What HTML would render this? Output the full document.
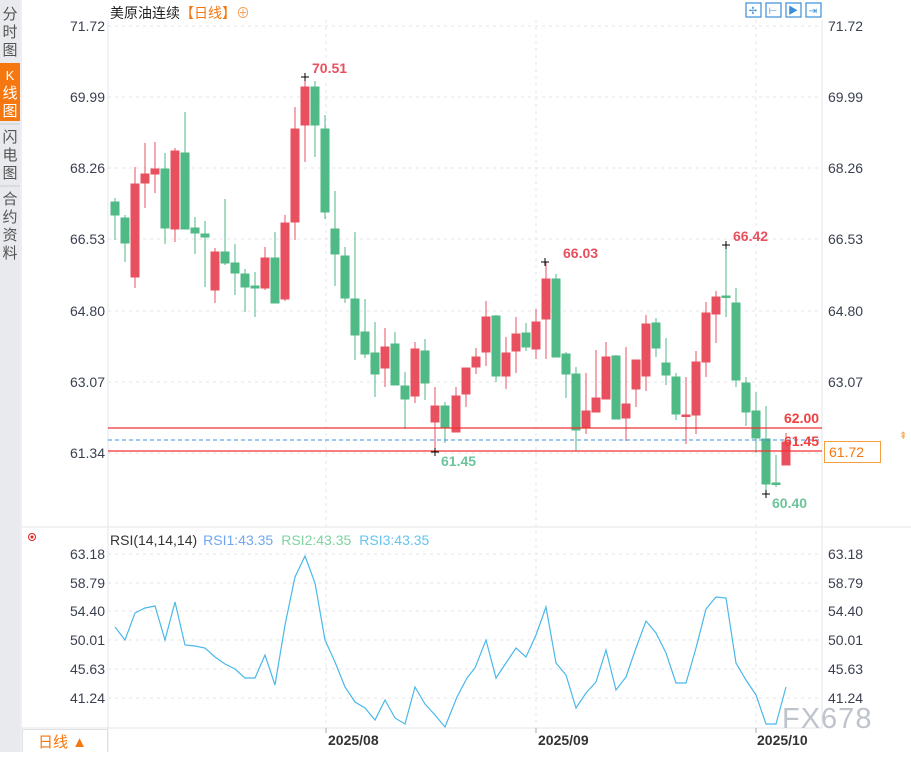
<!DOCTYPE html>
<html><head><meta charset="utf-8"><style>
body{margin:0;width:911px;height:752px;overflow:hidden;background:#fff;font-family:"Liberation Sans","Noto Sans CJK SC",sans-serif}
</style></head><body>
<svg width="911" height="752" xmlns="http://www.w3.org/2000/svg" font-family="Liberation Sans, Noto Sans CJK SC, sans-serif">
<rect x="0" y="0" width="20" height="752" fill="#e9eaee"/>
<rect x="0" y="63" width="20" height="58" fill="#f5770f"/>
<g font-size="15" fill="#555" text-anchor="middle">
<text x="10" y="19">分</text><text x="10" y="37">时</text><text x="10" y="55">图</text>
<text x="10" y="80" fill="#fff" font-size="13">K</text><text x="10" y="98" fill="#fff">线</text><text x="10" y="116" fill="#fff">图</text>
<text x="10" y="142">闪</text><text x="10" y="160">电</text><text x="10" y="178">图</text>
<text x="10" y="204">合</text><text x="10" y="222">约</text><text x="10" y="240">资</text><text x="10" y="258">料</text>
</g>
<line x1="0" y1="124" x2="20" y2="124" stroke="#ccc"/><line x1="0" y1="186" x2="20" y2="186" stroke="#ccc"/>
<line x1="21" y1="0" x2="21" y2="752" stroke="#dde"/>
<line x1="108" y1="20" x2="108" y2="728" stroke="#e4e6ea"/>
<line x1="822" y1="20" x2="822" y2="728" stroke="#e4e6ea"/>
<line x1="22" y1="527" x2="911" y2="527" stroke="#e4e6ea"/>
<line x1="22" y1="728" x2="822" y2="728" stroke="#e4e6ea"/>
<line x1="108" y1="728" x2="108" y2="752" stroke="#e4e6ea"/>
<g stroke="#e4e6ea" stroke-dasharray="3,4">
<line x1="108" y1="26" x2="822" y2="26"/><line x1="108" y1="97" x2="822" y2="97"/><line x1="108" y1="168" x2="822" y2="168"/><line x1="108" y1="239" x2="822" y2="239"/><line x1="108" y1="311" x2="822" y2="311"/><line x1="108" y1="382" x2="822" y2="382"/><line x1="108" y1="453" x2="822" y2="453"/>
<line x1="108" y1="554" x2="822" y2="554"/><line x1="108" y1="583" x2="822" y2="583"/><line x1="108" y1="611" x2="822" y2="611"/><line x1="108" y1="640" x2="822" y2="640"/><line x1="108" y1="669" x2="822" y2="669"/><line x1="108" y1="698" x2="822" y2="698"/>
<line x1="326" y1="20" x2="326" y2="728"/><line x1="536" y1="20" x2="536" y2="728"/><line x1="756" y1="20" x2="756" y2="728"/>
</g>
<g font-size="14" fill="#3a4050" text-anchor="end">
<text x="105" y="31">71.72</text><text x="105" y="102">69.99</text><text x="105" y="173">68.26</text><text x="105" y="244">66.53</text><text x="105" y="316">64.80</text><text x="105" y="387">63.07</text><text x="105" y="458">61.34</text>
<text x="105" y="559">63.18</text><text x="105" y="588">58.79</text><text x="105" y="616">54.40</text><text x="105" y="645">50.01</text><text x="105" y="674">45.63</text><text x="105" y="703">41.24</text>
</g>
<g font-size="14" fill="#3a4050">
<text x="828" y="31">71.72</text><text x="828" y="102">69.99</text><text x="828" y="173">68.26</text><text x="828" y="244">66.53</text><text x="828" y="316">64.80</text><text x="828" y="387">63.07</text><text x="828" y="458">61.34</text>
<text x="828" y="559">63.18</text><text x="828" y="588">58.79</text><text x="828" y="616">54.40</text><text x="828" y="645">50.01</text><text x="828" y="674">45.63</text><text x="828" y="703">41.24</text>
</g>
<text x="110" y="18" font-size="14" fill="#222">美原油连续<tspan fill="#f5770f">【日线】</tspan><tspan fill="#f5a05a">⊕</tspan></text>
<g fill="none" stroke="#3a8ed8" stroke-width="1.2">
<rect x="746" y="3" width="15" height="14"/><rect x="766" y="3" width="15" height="14"/><rect x="786" y="3" width="15" height="14"/><rect x="806" y="3" width="15" height="14"/>
</g>
<g fill="#3a8ed8" font-size="10" text-anchor="middle"><text x="753" y="14">✢</text><text x="773" y="14">⊢</text><text x="793" y="14">▶</text><text x="813" y="14">⇥</text></g>
<g stroke="#4fba85" fill="#4fba85">
<line x1="115" y1="198" x2="115" y2="240"/><rect x="111" y="202" width="8" height="13"/>
<line x1="125" y1="215" x2="125" y2="262"/><rect x="121" y="218" width="8" height="25"/>
<line x1="165" y1="153" x2="165" y2="244"/><rect x="161" y="169" width="8" height="59"/>
<line x1="185" y1="112" x2="185" y2="229"/><rect x="181" y="153" width="8" height="76"/>
<line x1="195" y1="217" x2="195" y2="254"/><rect x="191" y="228" width="8" height="5"/>
<line x1="205" y1="221" x2="205" y2="287"/><rect x="201" y="234" width="8" height="3"/>
<line x1="225" y1="199" x2="225" y2="265"/><rect x="221" y="252" width="8" height="11"/>
<line x1="235" y1="244" x2="235" y2="295"/><rect x="231" y="263" width="8" height="10"/>
<line x1="245" y1="269" x2="245" y2="312"/><rect x="241" y="274" width="8" height="13"/>
<line x1="255" y1="272" x2="255" y2="317"/><rect x="251" y="286" width="8" height="2"/>
<line x1="275" y1="232" x2="275" y2="303"/><rect x="271" y="258" width="8" height="45"/>
<line x1="315" y1="81" x2="315" y2="157"/><rect x="311" y="87" width="8" height="38"/>
<line x1="325" y1="115" x2="325" y2="219"/><rect x="321" y="129" width="8" height="83"/>
<line x1="335" y1="191" x2="335" y2="286"/><rect x="331" y="229" width="8" height="25"/>
<line x1="345" y1="247" x2="345" y2="303"/><rect x="341" y="256" width="8" height="42"/>
<line x1="355" y1="232" x2="355" y2="360"/><rect x="351" y="299" width="8" height="36"/>
<line x1="365" y1="299" x2="365" y2="358"/><rect x="361" y="332" width="8" height="22"/>
<line x1="375" y1="322" x2="375" y2="397"/><rect x="371" y="353" width="8" height="21"/>
<line x1="395" y1="332" x2="395" y2="385"/><rect x="391" y="344" width="8" height="41"/>
<line x1="405" y1="372" x2="405" y2="429"/><rect x="401" y="386" width="8" height="13"/>
<line x1="425" y1="339" x2="425" y2="400"/><rect x="421" y="351" width="8" height="32"/>
<line x1="445" y1="402" x2="445" y2="443"/><rect x="441" y="406" width="8" height="22"/>
<line x1="496" y1="315" x2="496" y2="382"/><rect x="492" y="316" width="8" height="60"/>
<line x1="526" y1="323" x2="526" y2="351"/><rect x="522" y="333" width="8" height="14"/>
<line x1="556" y1="274" x2="556" y2="357"/><rect x="552" y="279" width="8" height="78"/>
<line x1="566" y1="352" x2="566" y2="398"/><rect x="562" y="354" width="8" height="20"/>
<line x1="576" y1="367" x2="576" y2="451"/><rect x="572" y="374" width="8" height="56"/>
<line x1="616" y1="355" x2="616" y2="419"/><rect x="612" y="356" width="8" height="63"/>
<line x1="656" y1="318" x2="656" y2="357"/><rect x="652" y="323" width="8" height="25"/>
<line x1="666" y1="338" x2="666" y2="385"/><rect x="662" y="363" width="8" height="12"/>
<line x1="676" y1="373" x2="676" y2="420"/><rect x="672" y="377" width="8" height="37"/>
<line x1="726" y1="245" x2="726" y2="317"/><rect x="722" y="296" width="8" height="1.5"/>
<line x1="736" y1="288" x2="736" y2="387"/><rect x="732" y="303" width="8" height="77"/>
<line x1="746" y1="377" x2="746" y2="426"/><rect x="742" y="383" width="8" height="29"/>
<line x1="756" y1="392" x2="756" y2="453"/><rect x="752" y="411" width="8" height="27"/>
<line x1="766" y1="406" x2="766" y2="495"/><rect x="762" y="439" width="8" height="45"/>
<line x1="776" y1="455" x2="776" y2="487"/><rect x="772" y="483" width="8" height="1.5"/>
</g>
<g stroke="#e8505f" fill="#e8505f">
<line x1="135" y1="167" x2="135" y2="288"/><rect x="131" y="184" width="8" height="93"/>
<line x1="145" y1="143" x2="145" y2="208"/><rect x="141" y="174" width="8" height="9"/>
<line x1="155" y1="142" x2="155" y2="193"/><rect x="151" y="169" width="8" height="5"/>
<line x1="175" y1="148" x2="175" y2="242"/><rect x="171" y="151" width="8" height="78"/>
<line x1="215" y1="248" x2="215" y2="303"/><rect x="211" y="252" width="8" height="38"/>
<line x1="265" y1="247" x2="265" y2="290"/><rect x="261" y="258" width="8" height="30"/>
<line x1="285" y1="215" x2="285" y2="301"/><rect x="281" y="223" width="8" height="76"/>
<line x1="295" y1="107" x2="295" y2="240"/><rect x="291" y="129" width="8" height="93"/>
<line x1="305" y1="75" x2="305" y2="162"/><rect x="301" y="87" width="8" height="38"/>
<line x1="385" y1="328" x2="385" y2="387"/><rect x="381" y="347" width="8" height="21"/>
<line x1="415" y1="342" x2="415" y2="403"/><rect x="411" y="349" width="8" height="47"/>
<line x1="435" y1="387" x2="435" y2="453"/><rect x="431" y="406" width="8" height="16"/>
<line x1="456" y1="387" x2="456" y2="432"/><rect x="452" y="396" width="8" height="36"/>
<line x1="466" y1="368" x2="466" y2="407"/><rect x="462" y="368" width="8" height="26"/>
<line x1="476" y1="348" x2="476" y2="374"/><rect x="472" y="357" width="8" height="10"/>
<line x1="486" y1="301" x2="486" y2="366"/><rect x="482" y="317" width="8" height="35"/>
<line x1="506" y1="337" x2="506" y2="389"/><rect x="502" y="353" width="8" height="23"/>
<line x1="516" y1="317" x2="516" y2="373"/><rect x="512" y="334" width="8" height="17"/>
<line x1="536" y1="309" x2="536" y2="359"/><rect x="532" y="322" width="8" height="27"/>
<line x1="546" y1="262" x2="546" y2="359"/><rect x="542" y="279" width="8" height="40"/>
<line x1="586" y1="373" x2="586" y2="434"/><rect x="582" y="411" width="8" height="17"/>
<line x1="596" y1="350" x2="596" y2="412"/><rect x="592" y="398" width="8" height="14"/>
<line x1="606" y1="342" x2="606" y2="399"/><rect x="602" y="357" width="8" height="42"/>
<line x1="626" y1="347" x2="626" y2="441"/><rect x="622" y="404" width="8" height="14"/>
<line x1="636" y1="360" x2="636" y2="407"/><rect x="632" y="360" width="8" height="29"/>
<line x1="646" y1="315" x2="646" y2="391"/><rect x="642" y="324" width="8" height="52"/>
<line x1="686" y1="377" x2="686" y2="444"/><rect x="682" y="415" width="8" height="1.5"/>
<line x1="696" y1="351" x2="696" y2="434"/><rect x="692" y="362" width="8" height="53"/>
<line x1="706" y1="302" x2="706" y2="377"/><rect x="702" y="313" width="8" height="49"/>
<line x1="716" y1="291" x2="716" y2="343"/><rect x="712" y="297" width="8" height="17"/>
<line x1="786" y1="433" x2="786" y2="465"/><rect x="782" y="442" width="8" height="23"/>
</g>
<line x1="108" y1="428" x2="822" y2="428" stroke="#f03030" stroke-width="1.3"/>
<line x1="108" y1="451" x2="822" y2="451" stroke="#f03030" stroke-width="1.3"/>
<line x1="108" y1="440" x2="822" y2="440" stroke="#3a8ee8" stroke-dasharray="4,3"/>
<rect x="824.5" y="441.5" width="56" height="21" fill="#fff" stroke="#f5a040"/>
<text x="829" y="457" font-size="14" fill="#f5770f">61.72</text>
<text x="899" y="439" font-size="10" fill="#f5a040">⇞</text>
<g font-size="14" font-weight="bold">
<text x="784" y="423" fill="#f04040">62.00</text>
<text x="784" y="446" fill="#f04040">61.45</text>
<text x="312" y="73" fill="#e8505f">70.51</text>
<text x="563" y="258" fill="#e8505f">66.03</text>
<text x="733" y="241" fill="#e8505f">66.42</text>
<text x="441" y="466" fill="#6cc59a">61.45</text>
<text x="772" y="508" fill="#6cc59a">60.40</text>
</g>
<g stroke="#000" stroke-width="1">
<line x1="301" y1="77" x2="309" y2="77"/><line x1="305" y1="73" x2="305" y2="81"/>
<line x1="541" y1="262" x2="549" y2="262"/><line x1="545" y1="258" x2="545" y2="266"/>
<line x1="722" y1="245" x2="730" y2="245"/><line x1="726" y1="241" x2="726" y2="249"/>
<line x1="431" y1="452" x2="439" y2="452"/><line x1="435" y1="448" x2="435" y2="456"/>
<line x1="762" y1="494" x2="770" y2="494"/><line x1="766" y1="490" x2="766" y2="498"/>
</g>
<circle cx="32" cy="537" r="3.5" fill="none" stroke="#e02020"/><circle cx="32" cy="537" r="1.5" fill="#e02020"/>
<text x="110" y="545" font-size="14"><tspan fill="#333">RSI(14,14,14)</tspan><tspan dx="6" fill="#6fa8f0">RSI1:43.35</tspan><tspan dx="8" fill="#7fd4a0">RSI2:43.35</tspan><tspan dx="8" fill="#66c4ee">RSI3:43.35</tspan></text>
<polyline fill="none" stroke="#4ab8ea" stroke-width="1.2" points="115,627 125,640 135,613 145,608 155,606 165,640 175,602 185,645 195,646 205,648 215,657 225,664 235,669 245,678 255,678 265,655 275,685 285,625 295,577 305,556 315,583 325,640 335,662 345,687 355,702 365,708 375,720 385,700 395,718 405,724 415,687 425,704 435,715 445,727 457,697 467,678 475,668 486,640 496,678 506,663 516,648 526,657 536,635 546,607 556,663 566,675 576,708 586,693 596,682 606,650 616,690 626,677 636,648 646,621 656,633 666,653 676,683 686,683 696,648 706,609 716,597 726,598 736,663 746,680 756,695 766,724 776,724 786,687"/>
<text x="782" y="728" font-size="29" fill="#bfc4cc" letter-spacing="1">FX678</text>
<g font-size="14" font-weight="bold" fill="#333">
<text x="328" y="745">2025/08</text><text x="538" y="745">2025/09</text><text x="757" y="745">2025/10</text>
</g>
<g stroke="#aaa"><line x1="326" y1="728" x2="326" y2="733"/><line x1="536" y1="728" x2="536" y2="733"/><line x1="756" y1="728" x2="756" y2="733"/></g>
<rect x="22.5" y="729.5" width="85" height="23" fill="#fff" stroke="#e0e2e6"/>
<text x="38" y="747" font-size="15" fill="#f5770f">日线 ▲</text>
</svg>
</body></html>
